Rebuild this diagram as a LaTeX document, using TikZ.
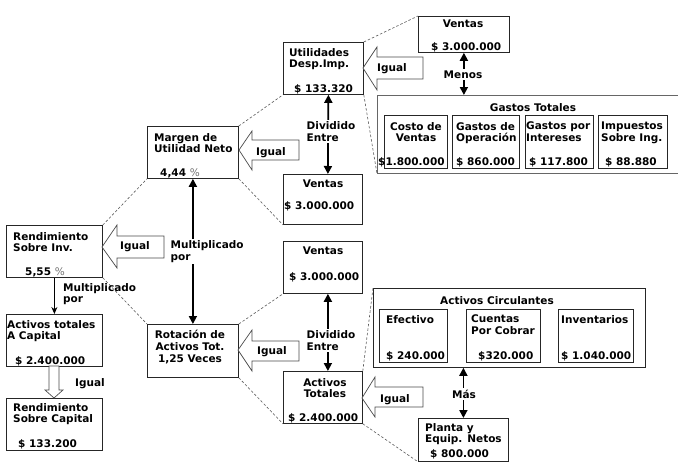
\documentclass[tikz,border=0pt]{standalone}
\usepackage{fontspec}
\setmainfont{DejaVu Sans}
\usetikzlibrary{arrows.meta}
\begin{document}
\begin{tikzpicture}[x=1pt,y=-1pt,
  box/.style={draw=black!85, line width=0.8pt, anchor=north west, inner sep=0pt},
  gbox/.style={draw=black!60, line width=0.8pt, anchor=north west, inner sep=0pt},
  txt/.style={font=\bfseries\fontsize{10.5}{11.8}\selectfont, inner sep=0pt, align=left},
  ctxt/.style={txt, align=center},
  lbl/.style={txt, fill=white, inner sep=1.5pt},
  blk/.style={draw=black!70, line width=0.7pt, fill=white, line join=miter},
  dsh/.style={draw=black!65, line width=0.6pt, dash pattern=on 2.5pt off 2pt},
  arrB/.style={line width=1.8pt, {Triangle[length=8pt,width=8pt]}-{Triangle[length=8pt,width=8pt]}},
  arrT/.style={line width=0.8pt, -{Stealth[length=7pt,width=6pt]}}]
\clip (0,0) rectangle (678,471);
\fill[white] (0,0) rectangle (678,471);

% ---------- boxes ----------
\node[box, minimum width=80pt, minimum height=52pt] (util) at (283,42) {};
\node[box, minimum width=91pt, minimum height=36pt] (vtop) at (418,16) {};
\node[gbox, minimum width=320pt, minimum height=78pt] (gastos) at (377,95) {};
\node[box, minimum width=63pt, minimum height=53pt] (costo) at (384,115) {};
\node[box, minimum width=67pt, minimum height=53pt] (oper) at (452,115) {};
\node[box, minimum width=68pt, minimum height=53pt] (inter) at (525,115) {};
\node[box, minimum width=69pt, minimum height=53pt] (imp) at (598,115) {};
\node[box, minimum width=91pt, minimum height=52pt] (margen) at (147,126) {};
\node[box, minimum width=79pt, minimum height=50pt] (vmid) at (283,174) {};
\node[box, minimum width=96pt, minimum height=52pt] (rend) at (6,225) {};
\node[box, minimum width=96pt, minimum height=52pt] (cap) at (6,314) {};
\node[box, minimum width=96pt, minimum height=52pt] (rcap) at (6,398) {};
\node[box, minimum width=91pt, minimum height=53pt] (rot) at (147,324) {};
\node[box, minimum width=79pt, minimum height=52pt] (vlow) at (283,241) {};
\node[box, minimum width=79pt, minimum height=52pt] (at) at (283,371) {};
\node[box, minimum width=272pt, minimum height=79pt] (ac) at (373,288) {};
\node[box, minimum width=68pt, minimum height=53pt] (ef) at (379,309) {};
\node[box, minimum width=74pt, minimum height=53pt] (cu) at (466,309) {};
\node[box, minimum width=75pt, minimum height=53pt] (inv) at (558,309) {};
\node[box, minimum width=90pt, minimum height=43pt] (planta) at (418,418) {};

% ---------- dashed connectors ----------
\draw[dsh] (util.north east) -- (vtop.north west);
\draw[dsh] (util.south east) -- (gastos.south west);
\draw[dsh] (margen.north east) -- (util.south west);
\draw[dsh] (margen.south east) -- (vmid.south west);
\draw[dsh] (rend.north east) -- (margen.south west);
\draw[dsh] (rend.south east) -- (rot.north west);
\draw[dsh] (rot.north east) -- (vlow.south west);
\draw[dsh] (rot.south east) -- (at.south west);
\draw[dsh] (at.north east) -- (ac.north west);
\draw[dsh] (at.south east) -- (planta.south west);

% ---------- hollow "Igual" arrows ----------
\draw[blk] (363,68) -- (377,47) -- (377,57) -- (423,57) -- (423,79) -- (377,79) -- (377,90) -- cycle;
\draw[blk] (239,150) -- (252,131) -- (252,140) -- (299,140) -- (299,160) -- (252,160) -- (252,170) -- cycle;
\draw[blk] (102,247) -- (117,225) -- (117,236) -- (164,236) -- (164,258) -- (117,258) -- (117,268) -- cycle;
\draw[blk] (238,350) -- (252,330) -- (252,341) -- (299,341) -- (299,361) -- (252,361) -- (252,371) -- cycle;
\draw[blk] (362,398) -- (375,377) -- (375,387) -- (423,387) -- (423,407) -- (375,407) -- (375,417) -- cycle;
\draw[blk] (54,398) -- (45,390) -- (49,390) -- (49,366) -- (59,366) -- (59,390) -- (63,390) -- cycle;

% ---------- solid arrows ----------
\draw[arrB] ([xshift=5pt]util.south) -- ([xshift=5pt]vmid.north);
\draw[arrB] (margen.south) -- (rot.north);
\draw[arrB] ([xshift=5pt]vlow.south) -- ([xshift=5pt]at.north);
\draw[arrB] (vtop.south) -- (vtop.south |- gastos.north);
\draw[arrB] (planta.north |- ac.south) -- (planta.north);
\draw[arrT] (rend.south) -- (cap.north);

% ---------- texts ----------
\node[txt, anchor=north west] (tutil) at (289,48) {Utilidades\\Desp.Imp.};
\node[txt, anchor=base west] (vutil) at (294,92) {\$ 133.320};
\node[txt, anchor=north] (tvtop) at (463,20) {Ventas};
\node[txt, anchor=base west] (vvtop) at (431,50) {\$ 3.000.000};
\node[lbl, anchor=base] (lmenos) at (463,78) {Menos};
\node[txt, anchor=base west] (ig1) at (377,71) {Igual};

\node[txt, anchor=base] (tgastos) at (533,111) {Gastos Totales};
\node[ctxt, anchor=north] (tcosto) at (416,122) {Costo de\\Ventas};
\node[txt, anchor=base west] (vcosto) at (378,165) {\$1.800.000};
\node[txt, anchor=north west] (toper) at (456,122) {Gastos de\\Operación};
\node[txt, anchor=base west] (voper) at (456,165) {\$ 860.000};
\node[txt, anchor=north west] (tinter) at (526,122) {Gastos por\\Intereses};
\node[txt, anchor=base west] (vinter) at (529,165) {\$ 117.800};
\node[txt, anchor=north west] (timp) at (601,122) {Impuestos\\Sobre Ing.};
\node[txt, anchor=base west] (vimp) at (605,165) {\$ 88.880};

\node[txt, anchor=north west] (tmargen) at (154,133) {Margen de\\Utilidad Neto};
\node[txt, anchor=base west] (vmargen) at (160,176) {4,44 {\mdseries\color{black!55}\%}};
\node[txt, anchor=base west] (ig2) at (256,155) {Igual};
\node[lbl, anchor=north west] (ldiv1) at (305,120) {Dividido\\Entre};
\node[txt, anchor=north] (tvmid) at (323,180) {Ventas};
\node[txt, anchor=base west] (vvmid) at (284,209) {\$ 3.000.000};

\node[txt, anchor=north west] (trend) at (13,232) {Rendimiento\\Sobre Inv.};
\node[txt, anchor=base west] (vrend) at (25,275) {5,55 {\mdseries\color{black!55}\%}};
\node[txt, anchor=base west] (ig3) at (120,249) {Igual};
\node[lbl, anchor=north west] (lmult1) at (169,239) {Multiplicado\\por};
\node[txt, anchor=north west] (lmult2) at (63,283) {Multiplicado\\por};

\node[txt, anchor=north west] (tcap) at (7,320) {Activos totales\\A Capital};
\node[txt, anchor=base west] (vcap) at (15,364) {\$ 2.400.000};
\node[txt, anchor=base west] (ig4) at (75,386) {Igual};
\node[txt, anchor=north west] (trcap) at (13,403) {Rendimiento\\Sobre Capital};
\node[txt, anchor=base west] (vrcap) at (18,447) {\$ 133.200};

\node[ctxt, anchor=north] (trot) at (190,330) {Rotación de\\Activos Tot.\\1,25 Veces};
\node[txt, anchor=base west] (ig5) at (257,354) {Igual};
\node[txt, anchor=north] (tvlow) at (323,247) {Ventas};
\node[txt, anchor=base west] (vvlow) at (289,280) {\$ 3.000.000};
\node[lbl, anchor=north west] (ldiv2) at (305,329) {Dividido\\Entre};
\node[ctxt, anchor=north] (tat) at (325,378) {Activos\\Totales};
\node[txt, anchor=base west] (vat) at (288,421) {\$ 2.400.000};
\node[txt, anchor=base west] (ig6) at (380,402) {Igual};

\node[txt, anchor=base] (tac) at (497,304) {Activos Circulantes};
\node[txt, anchor=north west] (tef) at (386,315) {Efectivo};
\node[txt, anchor=base west] (vef) at (386,359) {\$ 240.000};
\node[txt, anchor=north west] (tcu) at (471,315) {Cuentas\\Por Cobrar};
\node[txt, anchor=base west] (vcu) at (478,359) {\$320.000};
\node[txt, anchor=north west] (tinv) at (561,315) {Inventarios};
\node[txt, anchor=base west] (vinv) at (561,359) {\$ 1.040.000};
\node[lbl, anchor=base] (lmas) at (464,398) {Más};
\node[txt, anchor=north west] (tpl) at (425,423) {Planta y\\Equip. Netos};
\node[txt, anchor=base west] (vpl) at (430,457) {\$ 800.000};
\end{tikzpicture}
\end{document}
